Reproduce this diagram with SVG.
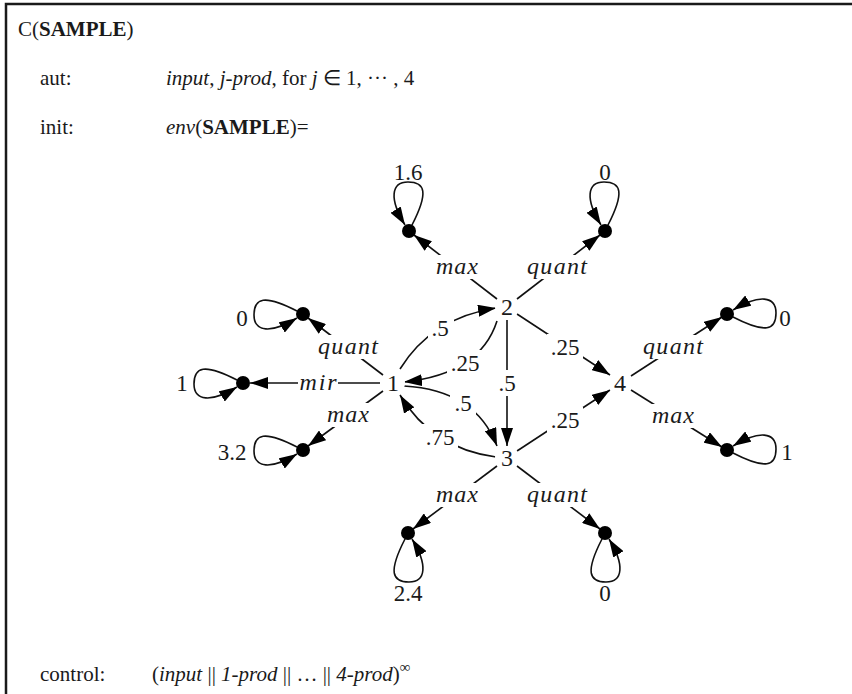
<svg xmlns="http://www.w3.org/2000/svg" width="852" height="694" viewBox="0 0 852 694">
<defs>
<style>
text{font-family:"Liberation Serif","Times New Roman",serif;fill:#1a1a1a}
.hd{font-size:21px}
.lb{font-size:23px;text-anchor:middle;dominant-baseline:central}
.el{font-size:24px;font-style:italic;text-anchor:middle;dominant-baseline:central}
.nd{font-size:24px;text-anchor:middle;dominant-baseline:central}
.it{font-style:italic}
.bf{font-weight:bold}
.e{fill:none;stroke:#111;stroke-width:1.6;marker-end:url(#ah)}
.bg{fill:#fff}
.dot{fill:#000}
</style>
<marker id="ah" viewBox="0 0 18 12" refX="18" refY="6" markerWidth="18" markerHeight="12" markerUnits="userSpaceOnUse" orient="auto">
<path d="M0,0 L18,6 L0,12 z" fill="#000"/>
</marker>
<path id="loop" d="M3,-6 C20,-39 16,-49 -1,-49 C-18,-49 -20,-32 -4,-6"/>
</defs>
<rect width="852" height="694" fill="#fff"/>
<path d="M852,4 H6 V694" fill="none" stroke="#1a1a1a" stroke-width="2.5"/>

<g id="header">
<text class="hd" x="18" y="36">C(<tspan class="bf">SAMPLE</tspan>)</text>
<text class="hd" x="40" y="85">aut:</text>
<text class="hd" x="166" y="85"><tspan class="it">input</tspan>, <tspan class="it">j-prod</tspan>, for <tspan class="it">j</tspan> ∈ 1, ··· , 4</text>
<text class="hd" x="40" y="134">init:</text>
<text class="hd" x="166" y="134"><tspan class="it">env</tspan>(<tspan class="bf">SAMPLE</tspan>)=</text>
<text class="hd" x="40" y="681">control:</text>
<text class="hd" x="152" y="681">(<tspan class="it">input</tspan> || <tspan class="it">1-prod</tspan> || … || <tspan class="it">4-prod</tspan>)<tspan dy="-9" font-size="15">∞</tspan></text>
</g>

<g id="connectors">
<path class="e" d="M497,299 L414,235"/>
<path class="e" d="M517,299 L600,235"/>
<path class="e" d="M383,375 L308,318"/>
<path class="e" d="M380,383 L250,383"/>
<path class="e" d="M383,391 L308,446"/>
<path class="e" d="M631,376 L722,317"/>
<path class="e" d="M631,390 L722,447"/>
<path class="e" d="M497,466 L413,529"/>
<path class="e" d="M517,466 L600,529"/>
<path class="e" d="M400,369 Q431.5,318 496,308"/>
<path class="e" d="M497,321 Q480,374 404,382"/>
<path class="e" d="M404,386 Q475.5,390 497,446"/>
<path class="e" d="M496,457 Q432,448.5 400,395"/>
<path class="e" d="M507,320 L507,446"/>
<path class="e" d="M517,314 L610,375"/>
<path class="e" d="M517,451 L610,390"/>
<use href="#loop" class="e" transform="translate(409,231)"/>
<use href="#loop" class="e" transform="translate(605,231)"/>
<use href="#loop" class="e" transform="translate(303,314) rotate(-90)"/>
<use href="#loop" class="e" transform="translate(243,383) rotate(-90)"/>
<use href="#loop" class="e" transform="translate(303,450) rotate(-90)"/>
<use href="#loop" class="e" transform="translate(727,314) rotate(90)"/>
<use href="#loop" class="e" transform="translate(727,450) rotate(90)"/>
<use href="#loop" class="e" transform="translate(408,533) rotate(180)"/>
<use href="#loop" class="e" transform="translate(605,533) rotate(180)"/>
<g id="edge-labels">
<rect class="bg" x="435" y="255" width="44" height="24"/><text class="el" x="457" y="266" textLength="42">max</text>
<rect class="bg" x="526" y="255" width="62" height="24"/><text class="el" x="557" y="266" textLength="60">quant</text>
<rect class="bg" x="317" y="335" width="62" height="24"/><text class="el" x="348" y="346" textLength="60">quant</text>
<rect class="bg" x="298" y="371" width="40" height="24"/><text class="el" x="318" y="382" textLength="37">mir</text>
<rect class="bg" x="326" y="403" width="44" height="24"/><text class="el" x="348" y="414" textLength="42">max</text>
<rect class="bg" x="642" y="335" width="62" height="24"/><text class="el" x="673" y="346" textLength="60">quant</text>
<rect class="bg" x="651" y="404" width="44" height="24"/><text class="el" x="673" y="415" textLength="42">max</text>
<rect class="bg" x="435" y="483" width="44" height="24"/><text class="el" x="457" y="494" textLength="42">max</text>
<rect class="bg" x="526" y="483" width="62" height="24"/><text class="el" x="557" y="494" textLength="60">quant</text>
<rect class="bg" x="428" y="315" width="26" height="26"/><text class="lb" x="440" y="328">.5</text>
<rect class="bg" x="447" y="350" width="36" height="26"/><text class="lb" x="465" y="363">.25</text>
<rect class="bg" x="450" y="390" width="26" height="26"/><text class="lb" x="463" y="403">.5</text>
<rect class="bg" x="422" y="424" width="36" height="26"/><text class="lb" x="440" y="437">.75</text>
<rect class="bg" x="495" y="370" width="24" height="26"/><text class="lb" x="507" y="383">.5</text>
<rect class="bg" x="547" y="334" width="36" height="26"/><text class="lb" x="565" y="347">.25</text>
<rect class="bg" x="547" y="407" width="36" height="26"/><text class="lb" x="565" y="420">.25</text>
</g>
</g>

<g id="dots">
<circle class="dot" cx="409" cy="231" r="7"/>
<circle class="dot" cx="605" cy="231" r="7"/>
<circle class="dot" cx="303" cy="314" r="7"/>
<circle class="dot" cx="243" cy="383" r="7"/>
<circle class="dot" cx="303" cy="450" r="7"/>
<circle class="dot" cx="727" cy="314" r="7"/>
<circle class="dot" cx="727" cy="450" r="7"/>
<circle class="dot" cx="408" cy="533" r="7"/>
<circle class="dot" cx="605" cy="533" r="7"/>
</g>

<g id="loop-values">
<text class="lb" x="408" y="172">1.6</text>
<text class="lb" x="605" y="172">0</text>
<text class="lb" x="242" y="318">0</text>
<text class="lb" x="182" y="383">1</text>
<text class="lb" x="232" y="452">3.2</text>
<text class="lb" x="785" y="318">0</text>
<text class="lb" x="787" y="452">1</text>
<text class="lb" x="408" y="593">2.4</text>
<text class="lb" x="605" y="593">0</text>
</g>

<g id="node1"><circle cx="393" cy="383" r="12" fill="#fff"/><text class="nd" x="393" y="383">1</text></g>
<g id="node2"><circle cx="507" cy="307" r="12" fill="#fff"/><text class="nd" x="507" y="307">2</text></g>
<g id="node3"><circle cx="507" cy="458" r="12" fill="#fff"/><text class="nd" x="507" y="458">3</text></g>
<g id="node4"><circle cx="620" cy="383" r="12" fill="#fff"/><text class="nd" x="620" y="383">4</text></g>
</svg>
